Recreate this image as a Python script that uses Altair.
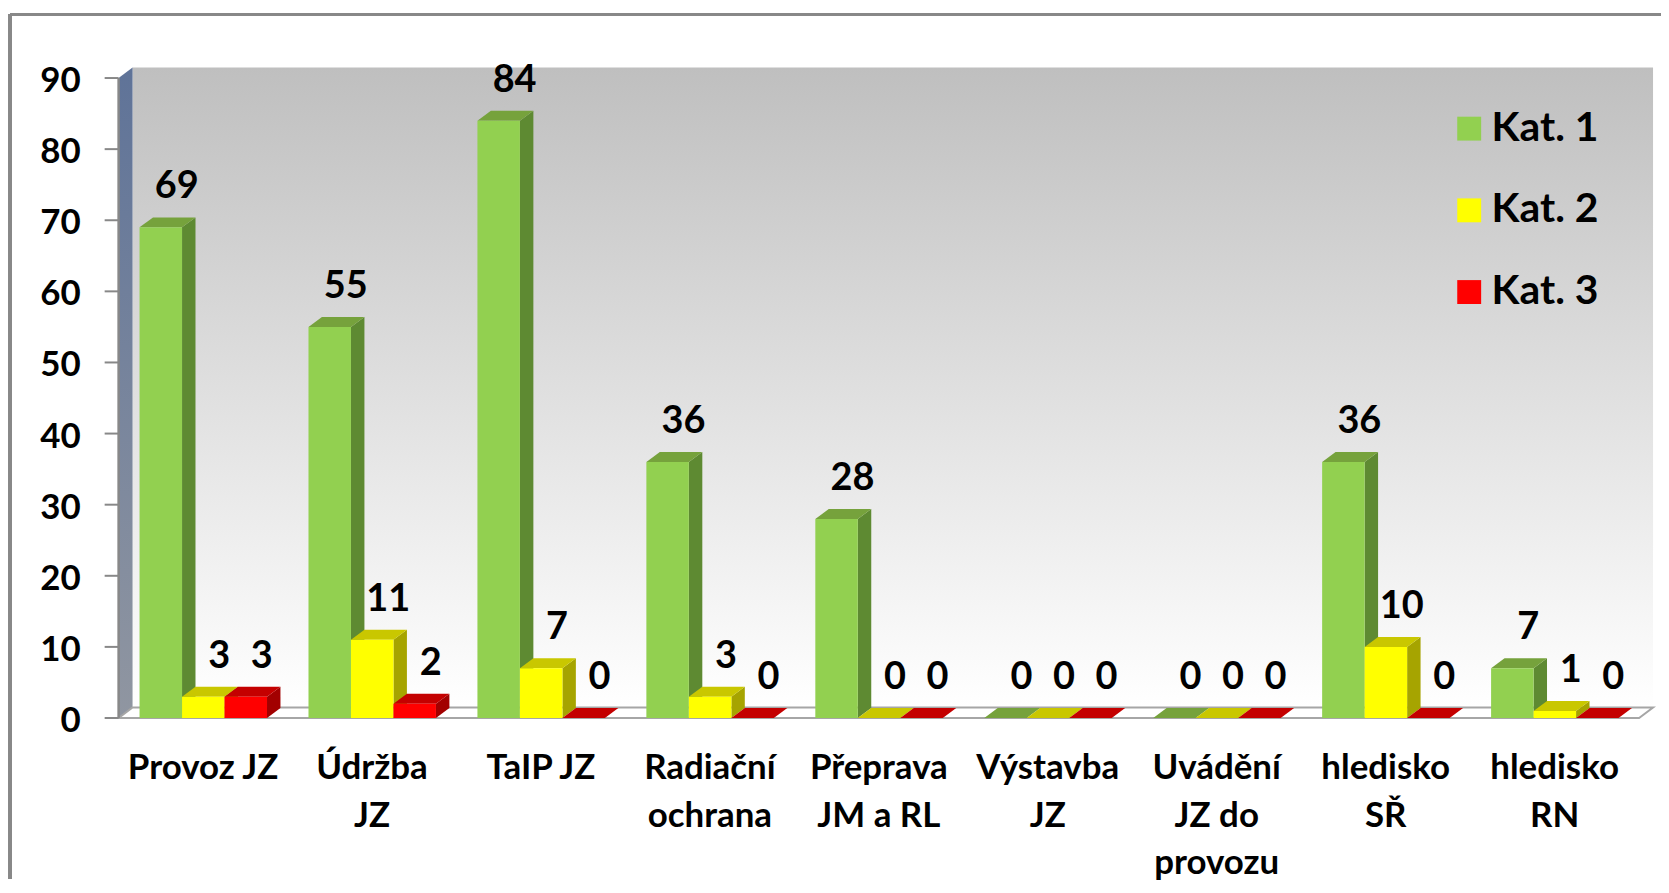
import altair as alt
import pandas as pd

# ---------------- data ----------------
categories = ["Provoz JZ", "Údržba\nJZ", "TaIP JZ", "Radiační\nochrana", "Přeprava\nJM a RL",
              "Výstavba\nJZ", "Uvádění\nJZ do\nprovozu", "hledisko\nSŘ", "hledisko\nRN"]
series = ["Kat. 1", "Kat. 2", "Kat. 3"]
kat1 = [69, 55, 84, 36, 28, 0, 0, 36, 7]
kat2 = [3, 11, 7, 3, 0, 0, 0, 10, 1]
kat3 = [3, 2, 0, 0, 0, 0, 0, 0, 0]
y_ticks = [0, 10, 20, 30, 40, 50, 60, 70, 80, 90]

# ---------------- styles ----------------
front_colors = ["#92d050", "#ffff00", "#ff0000"]
top_colors = ["#76a23c", "#c9c700", "#c40000"]
side_colors = ["#5e8a32", "#a6a400", "#a20000"]
FONT = "Lato"
GRAY = "#888888"

# ---------------- layout ----------------
W, H = 1657, 867
N = len(categories)
Y_MAX = 90
X_RANGE = [109, 1635]
Y_RANGE = [706, 63.7]
BAR_START, BAR_W = 0.124, 0.2515
BDX, BDY = 0.0796, 1.40      # bar depth (data units)
WDX, WDY = 0.0826, 1.47      # wall depth (data units)

xs = alt.Scale(domain=[0, N], range=X_RANGE, nice=False, zero=False)
ys = alt.Scale(domain=[0, Y_MAX], range=Y_RANGE, nice=False, zero=False)

# ---------------- derived tables ----------------
values = [kat1, kat2, kat3]
bar_rows, side_rows, top_rows = [], [], []
for i, cat in enumerate(categories):
    for s, name in enumerate(series):
        v = values[s][i]
        xl = i + BAR_START + s * BAR_W
        xr = xl + BAR_W
        bid = f"{i}-{s}"
        bar_rows.append(dict(bar=bid, series=name, v=v, base=0, xl=xl, xr=xr,
                             xc=(xl + xr) / 2, label=str(v)))
        side_rows += [
            dict(bar=bid, px=xr, py=v, py2=0, fillc=side_colors[s]),
            dict(bar=bid, px=xr + BDX, py=v + BDY, py2=BDY, fillc=side_colors[s]),
        ]
        top_rows += [
            dict(bar=bid, px=xl, py=v, py2=v, fillc=top_colors[s]),
            dict(bar=bid, px=xl + BDX, py=v + BDY, py2=v, fillc=top_colors[s]),
            dict(bar=bid, px=xr, py=v + BDY, py2=v, fillc=top_colors[s]),
            dict(bar=bid, px=xr + BDX, py=v + BDY, py2=v + BDY, fillc=top_colors[s]),
        ]
bars = pd.DataFrame(bar_rows)
sides = pd.DataFrame(side_rows)
tops = pd.DataFrame(top_rows)
cats = pd.DataFrame(dict(cat=categories, xc=[i + 0.5 for i in range(N)], base=0))
yticks = pd.DataFrame(dict(t=y_ticks, x0=0, label=[str(t) for t in y_ticks]))
ydomain = pd.DataFrame([dict(x0=0, y0=0, y1=Y_MAX)])

back_wall = pd.DataFrame([dict(x=WDX, x2=N + WDX, y=WDY, y2=Y_MAX + WDY)])
left_wall = pd.DataFrame([dict(px=0, py=Y_MAX, py2=0), dict(px=WDX, py=Y_MAX + WDY, py2=WDY)])
floor = pd.DataFrame([dict(px=0, py=0, py2=0), dict(px=WDX, py=WDY, py2=0),
                      dict(px=N, py=WDY, py2=0), dict(px=N + WDX, py=WDY, py2=WDY)])

def vgrad(c1, c2):
    return alt.Gradient(gradient="linear",
                        stops=[alt.GradientStop(color=c1, offset=0), alt.GradientStop(color=c2, offset=1)],
                        x1=0, x2=0, y1=0, y2=1)

# ---------------- layers ----------------
wall = alt.Chart(back_wall).mark_rect(color=vgrad("#bfbfbf", "#ffffff")).encode(
    x=alt.X("x:Q", scale=xs, axis=None), x2="x2:Q",
    y=alt.Y("y:Q", scale=ys, axis=None), y2="y2:Q")

lwall = alt.Chart(left_wall).mark_area(color=vgrad("#5f7398", "#9096a1")).encode(
    x=alt.X("px:Q", scale=xs, axis=None),
    y=alt.Y("py:Q", scale=ys, axis=None, stack=None), y2="py2:Q")

floor_l = alt.Chart(floor).mark_area(fill="#ffffff", stroke="#a6a6a6", strokeWidth=2).encode(
    x=alt.X("px:Q", scale=xs, axis=None),
    y=alt.Y("py:Q", scale=ys, axis=None, stack=None), y2="py2:Q")

side_l = alt.Chart(sides).mark_area().encode(
    x=alt.X("px:Q", scale=xs, axis=None),
    y=alt.Y("py:Q", scale=ys, axis=None, stack=None), y2="py2:Q",
    detail="bar:N", fill=alt.Fill("fillc:N", scale=None))

top_l = alt.Chart(tops).mark_area().encode(
    x=alt.X("px:Q", scale=xs, axis=None),
    y=alt.Y("py:Q", scale=ys, axis=None, stack=None), y2="py2:Q",
    detail="bar:N", fill=alt.Fill("fillc:N", scale=None))

front_l = alt.Chart(bars).mark_rect().encode(
    x=alt.X("xl:Q", scale=xs,
            axis=alt.Axis(values=list(range(N + 1)), orient="bottom", offset=Y_RANGE[0] - H,
                          tickSize=12, tickWidth=2, tickColor=GRAY, domainColor=GRAY, domainWidth=3,
                          labels=False, grid=False, title=None, zindex=1)),
    x2="xr:Q",
    y=alt.Y("v:Q", scale=ys, stack=None, axis=None),
    y2="base:Q",
    color=alt.Color("series:N", scale=alt.Scale(domain=series, range=front_colors),
                    legend=alt.Legend(orient="none", legendX=1444, legendY=94, title=None,
                                      symbolType="square", symbolSize=576, symbolStrokeWidth=0,
                                      labelFont=FONT, labelFontSize=41, labelFontWeight="bold",
                                      labelColor="black", rowPadding=40, labelOffset=2, padding=0,
                                      symbolOpacity=1)))

# value axis drawn from the tick list
ytick_l = alt.Chart(yticks).mark_rule(color=GRAY, strokeWidth=2, xOffset=-14).encode(
    x=alt.X("x0:Q", scale=xs, axis=None), x2="x0:Q",
    y=alt.Y("t:Q", scale=ys, axis=None))
ydom_l = alt.Chart(ydomain).mark_rule(color=GRAY, strokeWidth=2.5).encode(
    x=alt.X("x0:Q", scale=xs, axis=None),
    y=alt.Y("y0:Q", scale=ys, axis=None), y2="y1:Q")
ylab_l = alt.Chart(yticks).mark_text(font=FONT, fontSize=35, fontWeight="bold", color="black",
                                     align="right", baseline="middle", dx=-38, dy=3).encode(
    x=alt.X("x0:Q", scale=xs, axis=None),
    y=alt.Y("t:Q", scale=ys, axis=None),
    text="label:N")

labels_l = alt.Chart(bars).mark_text(font=FONT, fontSize=38, fontWeight="bold", color="black",
                                     dx=16, dy=-40, baseline="middle", align="center").encode(
    x=alt.X("xc:Q", scale=xs, axis=None),
    y=alt.Y("v:Q", scale=ys, axis=None, stack=None),
    text="label:N")

cat_l = alt.Chart(cats).mark_text(font=FONT, fontSize=35, fontWeight="bold", color="black",
                                  dy=61, baseline="alphabetic", align="center",
                                  lineBreak="\n", lineHeight=48).encode(
    x=alt.X("xc:Q", scale=xs, axis=None),
    y=alt.Y("base:Q", scale=ys, axis=None, stack=None),
    text="cat:N")

frame_top = alt.Chart(bars).mark_rule(color=GRAY, strokeWidth=2.5).encode(
    x=alt.value(0), x2=alt.value(W), y=alt.value(0))
frame_left = alt.Chart(bars).mark_rule(color=GRAY, strokeWidth=2.5).encode(
    x=alt.value(0), y=alt.value(0), y2=alt.value(H))

chart = alt.layer(wall, lwall, floor_l, side_l, top_l, front_l, ytick_l, ydom_l, ylab_l,
                  labels_l, cat_l, frame_top, frame_left).properties(
    width=W, height=H,
    padding={"left": 2, "top": 5, "right": 0, "bottom": 0},
    autosize=alt.AutoSizeParams(type="none"),
    background="white",
).configure_view(stroke=None)

chart.save("out.html", embed_options={"renderer": "svg", "actions": False})
